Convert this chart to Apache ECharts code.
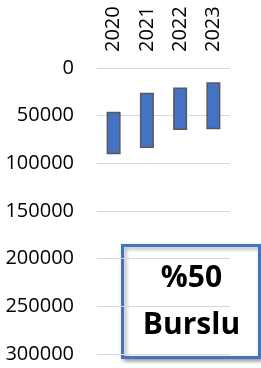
<!DOCTYPE html>
<html>
<head>
<meta charset="utf-8">
<script src="https://cdn.jsdelivr.net/npm/echarts@6/dist/echarts.min.js"></script>
<style>
  html, body { margin: 0; padding: 0; background: #fff; }
  #chart { width: 261px; height: 368px; }
</style>
</head>
<body>
<div id="chart"></div>
<script>
const years = ["2020", "2021", "2022", "2023"];
const lowValues = [46000, 26000, 20500, 15000];
const highValues = [90500, 84000, 65000, 64300];
const yTicks = [0, 50000, 100000, 150000, 200000, 250000, 300000];

const chart = echarts.init(document.getElementById("chart"));
const font = "Open Sans, Liberation Sans, sans-serif";

chart.setOption({
  animation: false,
  grid: { left: 97, right: 31, top: 68, bottom: 14 },
  xAxis: {
    type: "category",
    position: "top",
    data: years,
    axisLine: { show: false },
    axisTick: { show: false },
    axisLabel: {
      rotate: 90,
      margin: 16,
      color: "#000",
      fontFamily: font,
      fontSize: 20,
    },
  },
  yAxis: {
    type: "value",
    inverse: true,
    min: yTicks[0],
    max: yTicks[yTicks.length - 1],
    interval: 50000,
    axisLine: { show: false },
    axisTick: { show: false },
    axisLabel: {
      margin: 23,
      color: "#000",
      fontFamily: font,
      fontSize: 20,
      formatter: (v) => String(v),
    },
    splitLine: { lineStyle: { color: "#d9d9d9", width: 1 } },
  },
  series: [
    {
      type: "bar",
      stack: "range",
      data: lowValues,
      itemStyle: { color: "transparent" },
      barWidth: 14,
      silent: true,
    },
    {
      type: "bar",
      stack: "range",
      data: highValues.map((h, i) => h - lowValues[i]),
      barWidth: 14,
      itemStyle: { color: "#4472c4", borderColor: "#595959", borderWidth: 1.5 },
    },
  ],
  graphic: [
    {
      type: "group",
      left: 121,
      top: 244,
      children: [
        {
          type: "rect",
          shape: { x: 0, y: 0, width: 137, height: 112 },
          style: {
            fill: "#fff",
            stroke: "#4472c4",
            lineWidth: 3,
            shadowBlur: 4,
            shadowOffsetX: 2,
            shadowOffsetY: 2,
            shadowColor: "rgba(0,0,0,0.35)",
          },
        },
        {
          type: "text",
          style: {
            x: 69,
            y: 33,
            text: "%50",
            align: "center",
            verticalAlign: "middle",
            font: "bold 30px " + font,
            fill: "#000",
          },
        },
        {
          type: "text",
          style: {
            x: 69,
            y: 80,
            text: "Burslu",
            align: "center",
            verticalAlign: "middle",
            font: "bold 30px " + font,
            fill: "#000",
          },
        },
      ],
    },
  ],
});
</script>
</body>
</html>
